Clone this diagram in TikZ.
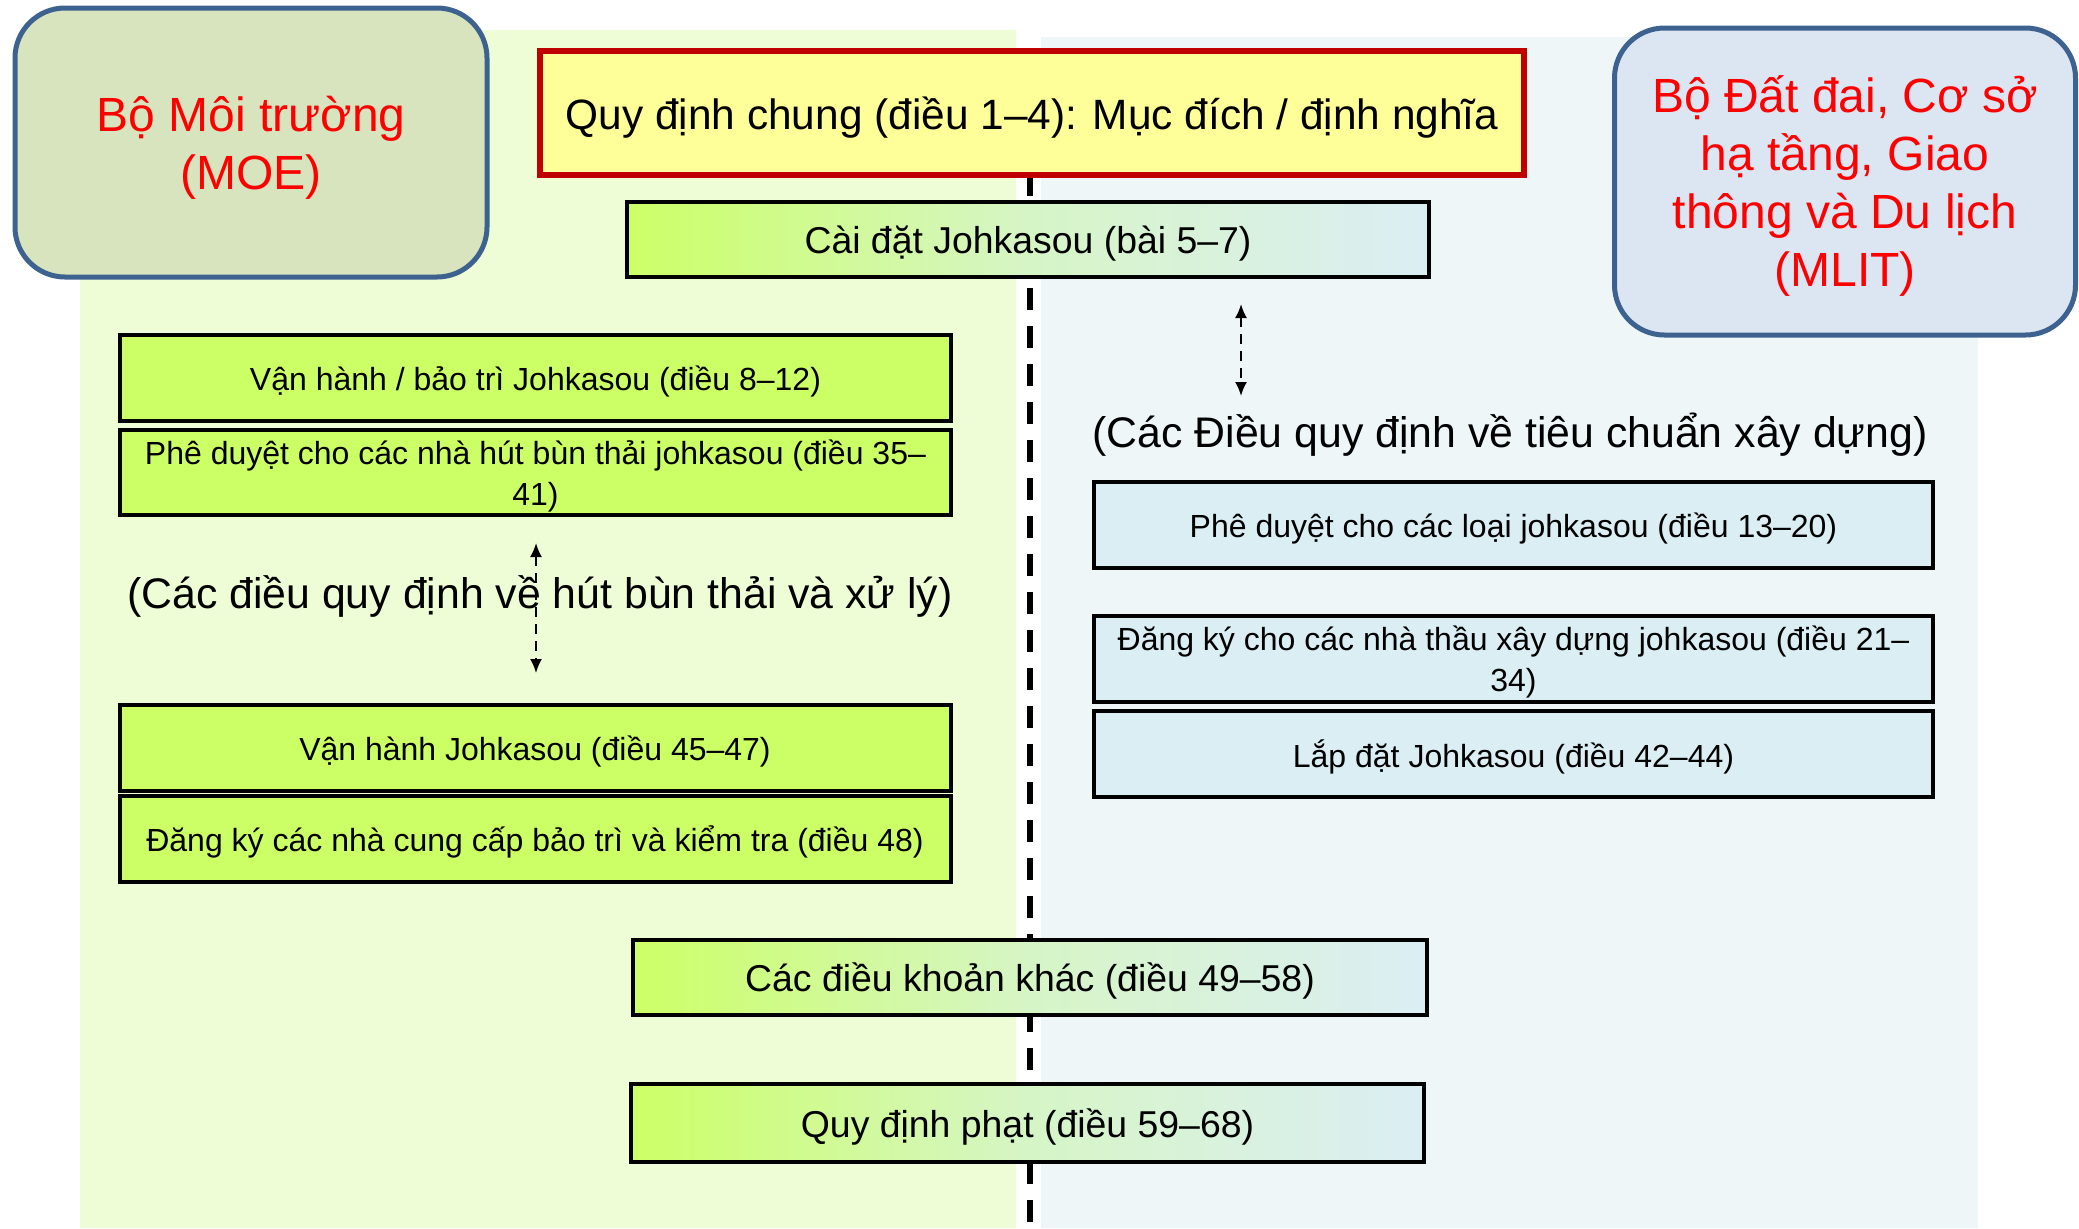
\documentclass[tikz,border=0pt]{standalone}
\usepackage{fontspec}
\setmainfont{Liberation Sans}
\usetikzlibrary{arrows.meta,shadows}
\definecolor{leftbg}{HTML}{EFFDD6}
\definecolor{rightbg}{HTML}{EEF6F8}
\definecolor{moefill}{HTML}{D7E4BD}
\definecolor{mlitfill}{HTML}{DCE6F2}
\definecolor{ppblue}{HTML}{3D6290}
\definecolor{pyellow}{HTML}{FFFF99}
\definecolor{pdarkred}{HTML}{C00000}
\definecolor{plime}{HTML}{CCFF66}
\definecolor{plblue}{HTML}{DBEEF4}
\definecolor{pmid}{HTML}{D6F5C6}
\begin{document}
\begin{tikzpicture}[x=0.5pt,y=-0.5pt,
  ministry/.style={draw=ppblue, line width=2.5pt, rounded corners=25pt, text=red,
    align=center, font=\fontsize{24}{29}\selectfont, inner sep=0pt, text depth=0pt},
  boxbase/.style={draw=black, line width=2pt, align=center, inner sep=0pt, text depth=0pt,
    font=\fontsize{16}{20.5}\selectfont, minimum width=415.5pt, minimum height=43pt,
    drop shadow={opacity=0.2, shadow xshift=0.6pt, shadow yshift=-1.2pt}},
  greenbox/.style={boxbase, fill=plime},
  bluebox/.style={boxbase, fill=plblue, minimum width=419.5pt},
  gradbox/.style={boxbase, left color=plime, right color=plblue, middle color=pmid,
    line width=2.2pt, font=\fontsize{18.7}{22}\selectfont, minimum height=37.5pt},
  sectlabel/.style={font=\fontsize{21.4}{25}\selectfont, inner sep=0pt, anchor=base},
  twoway/.style={line width=1pt, dash pattern=on 5pt off 3.5pt,
    {Latex[length=7pt,width=6pt]}-{Latex[length=7pt,width=6pt]}},
]
\useasboundingbox (0,0) rectangle (2079,1228);
% backgrounds
\fill[leftbg] (80,30) rectangle (1016,1228);
\fill[rightbg] (1041,37) rectangle (1978,1228);
% divider
\coordinate (divtop) at (1030,60);
\coordinate (divbot) at (1030,1228);
\draw[line width=2.6pt, dash pattern=on 11pt off 8pt] (divtop) -- (divbot);
% ministries
\node[ministry, fill=moefill, minimum width=236pt, minimum height=134.5pt] (moe) at (251,142.5)
  {Bộ Môi trường\\(MOE)};
\node[ministry, fill=mlitfill, minimum width=230.5pt, minimum height=153.5pt] (mlit) at (1845,181.5)
  {Bộ Đất đai, Cơ sở\\hạ tầng, Giao\\thông và Du lịch\\(MLIT)};
% top
\node[draw=pdarkred, line width=3pt, fill=pyellow, inner sep=0pt, minimum width=492pt, minimum height=62pt,
  text depth=0pt, font=\fontsize{21.2}{25}\selectfont] (general) at (1032,113)
  {Quy định chung (điều 1–4): Mục đích / định nghĩa};
\node[gradbox, minimum width=401pt] (install) at (1028,239.5) {Cài đặt Johkasou (bài 5–7)};
% left column
\node[greenbox] (om) at (535.5,378) {Vận hành / bảo trì Johkasou (điều 8–12)};
\node[greenbox, minimum height=42.5pt] (desludge) at (535.5,472.5)
  {Phê duyệt cho các nhà hút bùn thải johkasou (điều 35–\\41)};
\node[sectlabel] (leftlbl) at (540,608) {(Các điều quy định về hút bùn thải và xử lý)};
\coordinate (la1) at (536,543);
\coordinate (la2) at (536,673);
\draw[twoway] (la1) -- (la2);
\node[greenbox] (oper) at (535,748) {Vận hành Johkasou (điều 45–47)};
\node[greenbox] (reg) at (535,839) {Đăng ký các nhà cung cấp bảo trì và kiểm tra (điều 48)};
% right column
\coordinate (ra1) at (1241,304);
\coordinate (ra2) at (1241,396);
\draw[twoway] (ra1) -- (ra2);
\node[sectlabel] (rightlbl) at (1510,447) {(Các Điều quy định về tiêu chuẩn xây dựng)};
\node[bluebox] (types) at (1513.5,525) {Phê duyệt cho các loại johkasou (điều 13–20)};
\node[bluebox] (contr) at (1513.5,659) {Đăng ký cho các nhà thầu xây dựng johkasou (điều 21–\\34)};
\node[bluebox] (fit) at (1513.5,754) {Lắp đặt Johkasou (điều 42–44)};
% bottom
\node[gradbox, minimum width=397pt] (misc) at (1030,977.5) {Các điều khoản khác (điều 49–58)};
\node[gradbox, minimum width=396.5pt, minimum height=39pt] (penal) at (1027.5,1123) {Quy định phạt (điều 59–68)};
\end{tikzpicture}
\end{document}
